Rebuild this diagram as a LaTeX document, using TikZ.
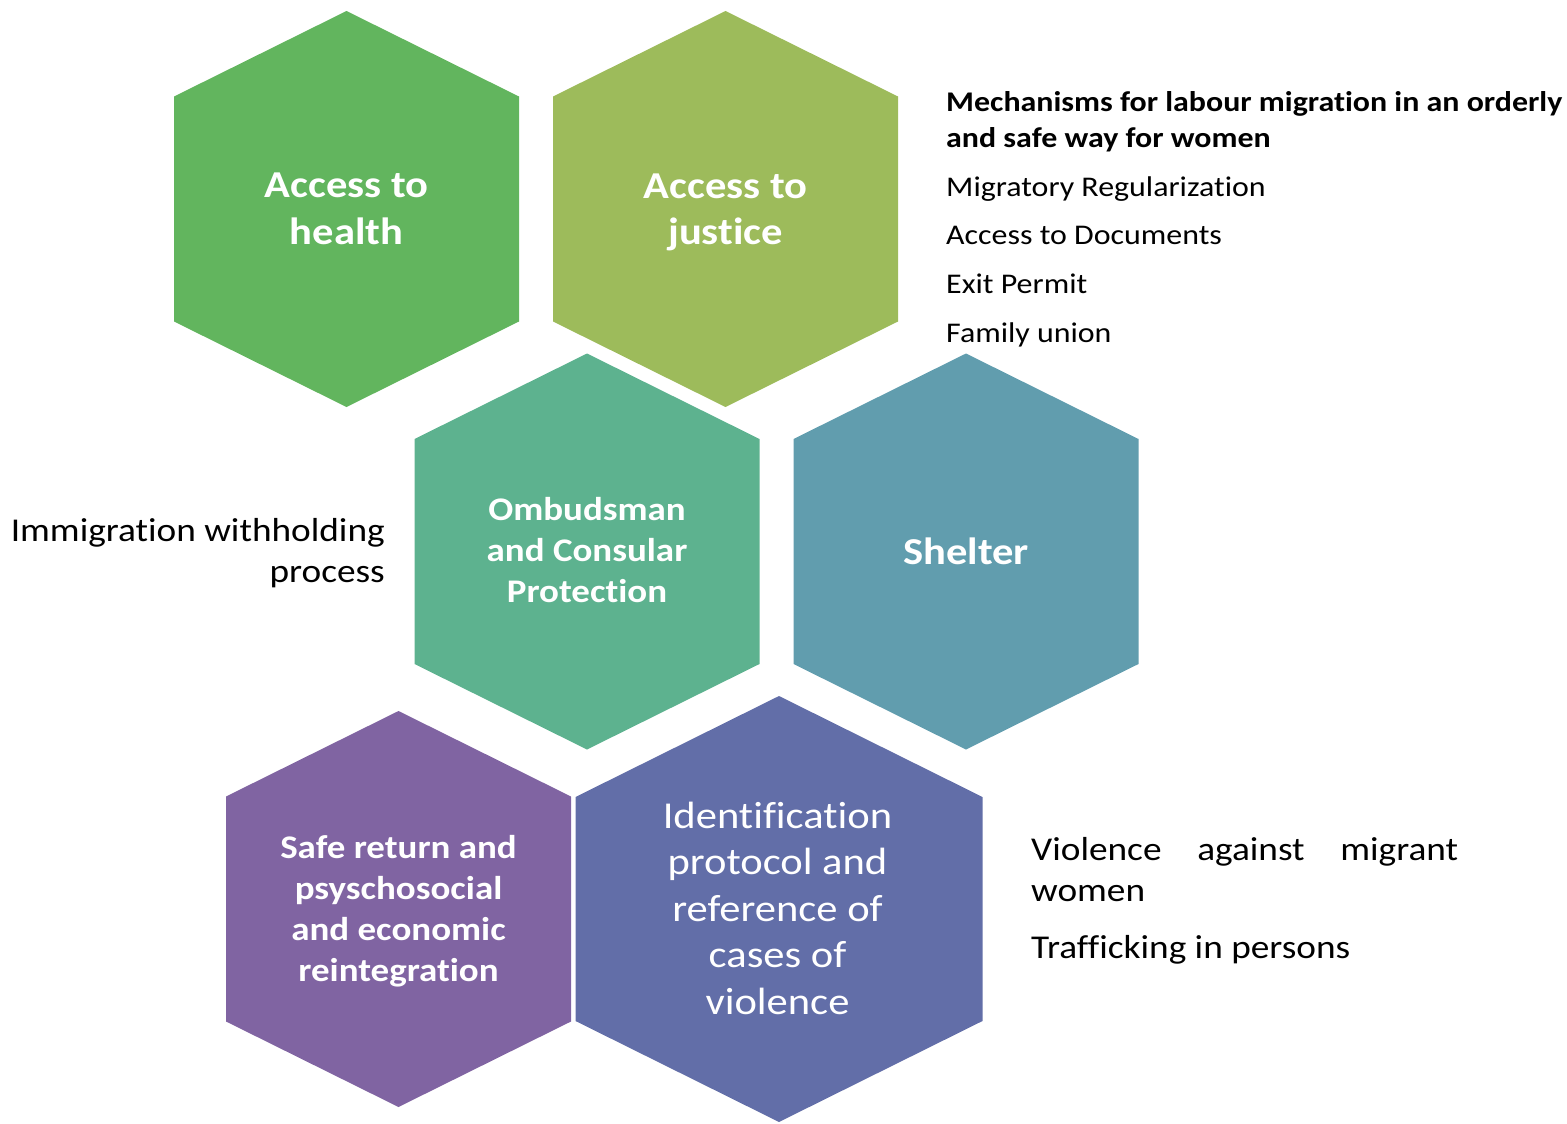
\documentclass[tikz,border=0pt]{standalone}
\usepackage{fontspec}
\setmainfont{Carlito}[FakeStretch=1.12, Ligatures=NoCommon]
\definecolor{cHealth}{HTML}{62B55E}
\definecolor{cJustice}{HTML}{9DBB5B}
\definecolor{cOmbud}{HTML}{5DB28F}
\definecolor{cShelter}{HTML}{619DAE}
\definecolor{cReturn}{HTML}{8064A2}
\definecolor{cIdent}{HTML}{626EA8}
\newcommand{\hexfill}[6]{%
  \fill[#6] (#1-#3,#2-#4+#5) -- (#1,#2-#4) -- (#1+#3,#2-#4+#5) -- (#1+#3,#2+#4-#5) -- (#1,#2+#4) -- (#1-#3,#2+#4-#5) -- cycle;}
\tikzset{
  hexbold/.style={text=white, align=center, font=\fontsize{38}{46.5}\selectfont\bfseries},
  hexmid/.style={text=white, align=center, font=\fontsize{33}{41}\selectfont\bfseries},
  hexreg/.style={text=white, align=center, font=\fontsize{38}{46.5}\selectfont},
  sidehead/.style={anchor=base west, align=left, inner sep=0pt, font=\fontsize{28.5}{36}\selectfont\bfseries},
  sideitem/.style={anchor=base west, inner sep=0pt, font=\fontsize{28.5}{34}\selectfont},
  sidebig/.style={inner sep=0pt, font=\fontsize{33.3}{41}\selectfont},
}
\begin{document}
\begin{tikzpicture}[x=1pt,y=-1pt]
\useasboundingbox (0,0) rectangle (1567,1124);
\hexfill{346.5}{209}{172.5}{198}{85.5}{cHealth}
\hexfill{725.5}{209}{172.5}{198}{85.5}{cJustice}
\hexfill{587}{551.5}{172.5}{198}{85.5}{cOmbud}
\hexfill{966}{551.5}{172.5}{198}{85.5}{cShelter}
\hexfill{398.5}{909}{172.5}{198}{85.5}{cReturn}
\hexfill{779}{909}{203.5}{213}{101}{cIdent}
\node[hexbold] (health) at (346.5,209) {Access to\\health};
\node[hexbold] (justice) at (725.5,212.5) {Access to\\justice};
\node[hexmid] (ombud) at (587,550) {Ombudsman\\and Consular\\Protection};
\node[hexbold] (shelter) at (966,551.5) {Shelter};
\node[hexmid] (return) at (398.5,911) {Safe return and\\psyschosocial\\and economic\\reintegration};
\node[hexreg] (ident) at (777.5,908) {Identification\\protocol and\\reference of\\cases of\\violence};
\node[sidehead] (mech) at (946,147) {Mechanisms for labour migration in an orderly\\and safe way for women};
\node[sideitem] (regul) at (946,196) {Migratory Regularization};
\node[sideitem] (docs) at (946,244) {Access to Documents};
\node[sideitem] (exit) at (946,293) {Exit Permit};
\node[sideitem] (family) at (946,342) {Family union};
\node[sidebig, anchor=base east, align=right] (immig) at (385,582) {Immigration withholding\\process};
\node[sidebig, anchor=base west, align=left] (viol) at (1031,901) {\hbox to 427pt{Violence\hfill against\hfill migrant}\\women};
\node[sidebig, anchor=base west] (traff) at (1031,958) {Trafficking in persons};
\end{tikzpicture}
\end{document}
